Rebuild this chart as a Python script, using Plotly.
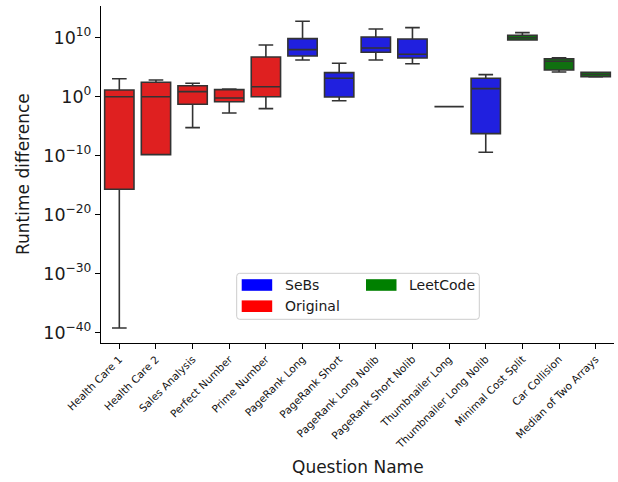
import plotly.graph_objects as go

categories = ["Health Care 1", "Health Care 2", "Sales Analysis", "Perfect Number",
              "Prime Number", "PageRank Long", "PageRank Short", "PageRank Long Nolib",
              "PageRank Short Nolib", "Thumbnailer Long", "Thumbnailer Long Nolib",
              "Minimal Cost Split", "Car Collision", "Median of Two Arrays"]
groups = ["Original", "Original", "Original", "Original", "Original",
          "SeBs", "SeBs", "SeBs", "SeBs", "SeBs", "SeBs",
          "LeetCode", "LeetCode", "LeetCode"]

lower_fence = [6.3e-40, 1.48e-10, 5.6e-6, 1.74e-3, 9.3e-3, 1.66e6, 0.209, 1.66e6, 3.9e5,
               0.0204, 3.8e-10, 4.07e9, 15500, 2190]
q1_vals = [2.0e-16, 1.48e-10, 0.051, 0.141, 1.0, 7.9e6, 0.89, 3.4e7, 3.6e6,
           0.0204, 5.4e-7, 4.07e9, 33900, 2450]
median_vals = [1.0, 1.0, 7.1, 0.603, 49.0, 9.3e7, 1318, 1.78e8, 1.55e7,
               0.0204, 22.9, 1.0e10, 1.0e6, 5750]
q3_vals = [13.8, 275, 72.4, 15.5, 5.4e6, 6.8e9, 11750, 1.32e10, 6.0e9,
           0.0204, 1318, 2.57e10, 2.75e6, 13500]
upper_fence = [1122, 676, 186, 20.0, 5.8e8, 6.0e12, 4.57e5, 2.95e11, 5.0e11,
               0.0204, 5370, 7.1e10, 4.07e6, 13500]

ytick_exponents = [-40, -30, -20, -10, 0, 10]
legend_order = ["SeBs", "Original", "LeetCode"]

box_fill = {"Original": "#df2020", "SeBs": "#2020df", "LeetCode": "#107010"}
legend_fill = {"Original": "#ff0000", "SeBs": "#0000ff", "LeetCode": "#008000"}
edge = "#333333"
FONT = "DejaVu Sans"

fig = go.Figure()
for g in ["Original", "SeBs", "LeetCode"]:
    idx = [i for i, gg in enumerate(groups) if gg == g]
    fig.add_trace(go.Box(
        x=[categories[i] for i in idx],
        q1=[q1_vals[i] for i in idx],
        median=[median_vals[i] for i in idx],
        q3=[q3_vals[i] for i in idx],
        lowerfence=[lower_fence[i] for i in idx],
        upperfence=[upper_fence[i] for i in idx],
        fillcolor=box_fill[g],
        line=dict(color=edge, width=1.6),
        width=0.8,
        whiskerwidth=0.5,
        boxpoints=False,
        showlegend=False,
        name=g,
    ))

def px2x(px):
    return (px - 101) / 513.0

def px2y(py):
    return (343 - py) / 337.0

shapes = []
# legend frame with rounded corners
x0, x1, y0, y1 = px2x(236.7), px2x(479.3), px2y(319.3), px2y(273.3)
rx, ry = 3 / 513.0, 3 / 337.0
path = (f"M {x0+rx},{y0} L {x1-rx},{y0} Q {x1},{y0} {x1},{y0+ry} "
        f"L {x1},{y1-ry} Q {x1},{y1} {x1-rx},{y1} L {x0+rx},{y1} "
        f"Q {x0},{y1} {x0},{y1-ry} L {x0},{y0+ry} Q {x0},{y0} {x0+rx},{y0} Z")
shapes.append(dict(type="path", xref="paper", yref="paper", path=path,
                   fillcolor="rgba(255,255,255,0.8)", line=dict(color="#cccccc", width=1)))

legend_pos = {"SeBs": (241.7, 285.0), "Original": (241.7, 306.2), "LeetCode": (366.0, 285.0)}
annotations = []
for name in legend_order:
    lx, ly = legend_pos[name]
    shapes.append(dict(type="rect", xref="paper", yref="paper",
                       x0=px2x(lx), x1=px2x(lx + 30.5), y0=px2y(ly + 5.8), y1=px2y(ly - 5.8),
                       fillcolor=legend_fill[name], line=dict(width=0)))
    annotations.append(dict(text=name, xref="paper", yref="paper", x=px2x(lx + 41), y=px2y(ly),
                            xanchor="left", yanchor="middle", showarrow=False,
                            font=dict(family=FONT, size=14, color="#1a1a1a")))

annotations.append(dict(text="Question Name", xref="paper", yref="paper",
                        x=0.5, y=px2y(467), xanchor="center", yanchor="middle",
                        showarrow=False, font=dict(family=FONT, size=17, color="#1a1a1a")))
annotations.append(dict(text="Runtime difference", xref="paper", yref="paper",
                        x=px2x(22.5), y=0.5, xanchor="center", yanchor="middle", textangle=-90,
                        showarrow=False, font=dict(family=FONT, size=17, color="#1a1a1a")))

fig.update_layout(
    width=618, height=482,
    margin=dict(l=101, r=4, t=6, b=139),
    paper_bgcolor="white", plot_bgcolor="white",
    boxmode="overlay",
    font=dict(family=FONT, color="#1a1a1a"),
    shapes=shapes,
    annotations=annotations,
)
fig.update_xaxes(
    type="category", categoryorder="array", categoryarray=categories,
    range=[-0.5, 13.5], showline=True, linecolor="black", linewidth=1.2,
    ticks="outside", ticklen=5, tickwidth=1.2, tickcolor="black",
    tickangle=-45, tickfont=dict(family=FONT, size=10.5, color="#111111"),
    showgrid=False, zeroline=False,
)
fig.update_yaxes(
    type="log", range=[-41.75, 15.37], showline=True, linecolor="black", linewidth=1.2,
    ticks="outside", ticklen=5, tickwidth=1.2, tickcolor="black",
    tickvals=[10.0 ** e for e in ytick_exponents],
    ticktext=["10<sup>" + (str(e).replace("-", "\u2212")) + "</sup>" for e in ytick_exponents],
    tickfont=dict(family=FONT, size=17.5, color="#1a1a1a"),
    showgrid=False, zeroline=False,
)

fig.write_html("out.html")
